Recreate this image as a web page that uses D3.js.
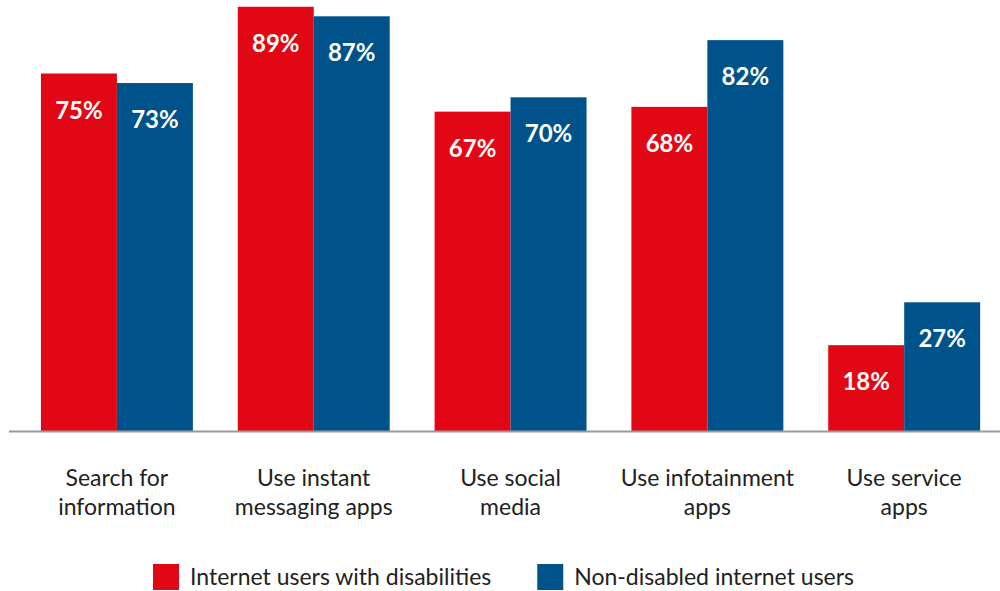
<!DOCTYPE html>
<html><head><meta charset="utf-8">
<script src="https://cdn.jsdelivr.net/npm/d3@7"></script>
<style>
html,body{margin:0;padding:0;background:#fff;}
svg{display:block;}
text{font-family:Lato,"Open Sans",sans-serif;}
</style></head>
<body>
<script>
const categories = [["Search for","information"],["Use instant","messaging apps"],["Use social","media"],["Use infotainment","apps"],["Use service","apps"]];
const seriesNames = ["Internet users with disabilities","Non-disabled internet users"];
const disabled = [75, 89, 67, 68, 18];
const nonDisabled = [73, 87, 70, 82, 27];
const colors = ["#E20714","#00528A"];

const W = 1000, H = 591;
const svg = d3.select("body").append("svg").attr("width", W).attr("height", H);

const x0 = d3.scaleBand().domain(d3.range(categories.length)).range([18.5, 1002.6]).paddingInner(0.228).paddingOuter(0.114);
const x1 = d3.scaleBand().domain([0,1]).range([0, x0.bandwidth()]);
const y = d3.scaleLinear().domain([0, 90]).range([431, 2]);

const series = [disabled, nonDisabled];
const data = [];
categories.forEach((c,i)=>series.forEach((s,k)=>data.push({i,k,v:s[i]})));

svg.selectAll("rect.bar").data(data).enter().append("rect")
  .attr("class","bar")
  .attr("x", d=>x0(d.i)+x1(d.k))
  .attr("width", x1.bandwidth())
  .attr("y", d=>y(d.v))
  .attr("height", d=>y(0)-y(d.v))
  .attr("fill", d=>colors[d.k]);

svg.selectAll("text.val").data(data).enter().append("text")
  .attr("class","val")
  .attr("x", d=>x0(d.i)+x1(d.k)+x1.bandwidth()/2)
  .attr("y", d=>y(d.v)+45)
  .attr("text-anchor","middle")
  .attr("fill","#fff")
  .attr("font-weight","bold")
  .attr("font-size","24px")
  .text(d=>d.v+"%");

svg.append("line").attr("x1",9).attr("x2",1000).attr("y1",431.5).attr("y2",431.5)
  .attr("stroke","#999").attr("stroke-width",2);

const cat = svg.selectAll("text.cat").data(categories).enter().append("text")
  .attr("class","cat")
  .attr("text-anchor","middle")
  .attr("fill","#222")
  .attr("font-size","23px");
cat.each(function(lines,i){
  const t = d3.select(this);
  lines.forEach((l,j)=>t.append("tspan").attr("x", x0(i)+x0.bandwidth()/2).attr("y", 486+j*28.5).text(l));
});

// legend
const lg = svg.append("g");
let xpos = 0;
seriesNames.forEach((n,k)=>{
  const g = lg.append("g").attr("transform",`translate(${xpos},0)`);
  g.append("rect").attr("x",0).attr("y",564).attr("width",26).attr("height",26).attr("fill",colors[k]);
  const t = g.append("text").attr("x",37).attr("y",585).attr("font-size","23px").attr("fill","#222").text(n);
  xpos += 37 + t.node().getComputedTextLength() + 46;
});
const total = xpos - 46;
lg.attr("transform",`translate(${(148+859)/2 - total/2},0)`);
</script>
</body></html>
